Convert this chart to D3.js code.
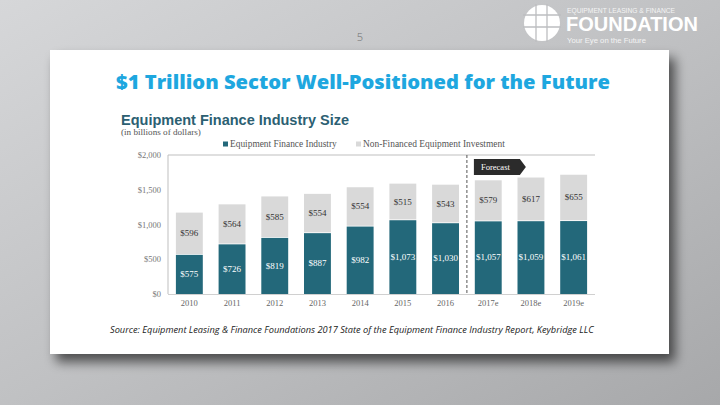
<!DOCTYPE html>
<html><head><meta charset="utf-8">
<script src="https://cdn.jsdelivr.net/npm/d3@7/dist/d3.min.js"></script>
<style>html,body{margin:0;padding:0;background:#c4c5c7;}svg{display:block;}</style>
</head><body>
<svg id="c" width="720" height="405"></svg>
<script>
const years = ["2010","2011","2012","2013","2014","2015","2016","2017e","2018e","2019e"];
const financed = [575, 726, 819, 887, 982, 1073, 1030, 1057, 1059, 1061];
const nonFinanced = [596, 564, 585, 554, 554, 515, 543, 579, 617, 655];
const yTicks = [0, 500, 1000, 1500, 2000];
const yTickLabels = ["$0", "$500", "$1,000", "$1,500", "$2,000"];
const seriesNames = ["Equipment Finance Industry", "Non-Financed Equipment Investment"];
const valueLabels = v => "$" + d3.format(",")(v);

const svg = d3.select("#c");
const defs = svg.append("defs");
const bg = defs.append("linearGradient").attr("id","bg").attr("x1","0").attr("y1","0").attr("x2","1").attr("y2","1");
bg.append("stop").attr("offset","0").attr("stop-color","#d6d7d9");
bg.append("stop").attr("offset","0.5").attr("stop-color","#c0c1c3");
bg.append("stop").attr("offset","1").attr("stop-color","#a7a8aa");
const sh = defs.append("filter").attr("id","sh").attr("x","-10%").attr("y","-10%").attr("width","130%").attr("height","140%");
sh.append("feGaussianBlur").attr("in","SourceAlpha").attr("stdDeviation","6");
sh.append("feOffset").attr("dx","6").attr("dy","8").attr("result","b");
sh.append("feComponentTransfer").append("feFuncA").attr("type","linear").attr("slope","0.6");
const m = sh.append("feMerge"); m.append("feMergeNode"); m.append("feMergeNode").attr("in","SourceGraphic");

svg.append("rect").attr("width",720).attr("height",405).attr("fill","url(#bg)");

function fit(sel, w){
  const n = sel.node(); const cur = n.getComputedTextLength();
  const fs = parseFloat(sel.attr("font-size"));
  if(cur>0) sel.attr("font-size", (fs*w/cur).toFixed(2));
  return sel;
}

// page number
svg.append("text").attr("x",360).attr("y",41).attr("text-anchor","middle")
  .attr("font-family","Open Sans, sans-serif").attr("font-weight",300).attr("font-size",11).attr("fill","#6d6e70").text("5");

// logo
const lg = svg.append("g");
lg.append("circle").attr("cx",542).attr("cy",23).attr("r",18).attr("fill","#ffffff");
[536,547].forEach(x=>lg.append("line").attr("x1",x).attr("x2",x).attr("y1",4).attr("y2",42).attr("stroke","#bdbec0").attr("stroke-width",1.3));
[15,27].forEach(y=>lg.append("line").attr("x1",523).attr("x2",561).attr("y1",y).attr("y2",y).attr("stroke","#bdbec0").attr("stroke-width",1.3));
fit(lg.append("text").attr("x",567).attr("y",13).attr("font-family","Liberation Sans, sans-serif").attr("font-size",6.5).attr("fill","#f4f4f4").text("EQUIPMENT LEASING & FINANCE"),108);
fit(lg.append("text").attr("x",566).attr("y",31).attr("font-family","Liberation Sans, sans-serif").attr("font-weight","bold").attr("font-size",19).attr("fill","#ffffff").text("FOUNDATION"),132);
fit(lg.append("text").attr("x",567).attr("y",43).attr("font-family","Liberation Sans, sans-serif").attr("font-size",8.5).attr("fill","#f4f4f4").text("Your Eye on the Future"),79);

// card
svg.append("rect").attr("x",50).attr("y",50).attr("width",619).attr("height",304).attr("fill","#ffffff").attr("filter","url(#sh)");

// main title
fit(svg.append("text").attr("x",116).attr("y",89).attr("font-family","Open Sans, sans-serif").attr("font-weight",800).attr("font-size",20).attr("fill","#1ea7df").text("$1 Trillion Sector Well-Positioned for the Future"),494);

// chart title
fit(svg.append("text").attr("x",121).attr("y",125).attr("font-family","Liberation Sans, Arial, sans-serif").attr("font-weight","bold").attr("font-size",14.5).attr("fill","#2c6072").text("Equipment Finance Industry Size"),228);
fit(svg.append("text").attr("x",121).attr("y",134.5).attr("font-family","Liberation Serif, serif").attr("font-size",8.5).attr("fill","#555").text("(in billions of dollars)"),80);

// scales
const x = d3.scaleBand().domain(years).range([168,595]).paddingInner(0.37).paddingOuter(0.185);
const y = d3.scaleLinear().domain([0,2000]).range([294,155]);
const serif = "Liberation Serif, serif";
const teal = "#23687a", grey = "#d9d9d9";

// legend
const legend = svg.append("g");
legend.append("rect").attr("x",223).attr("y",141.5).attr("width",5).attr("height",5).attr("fill",teal);
fit(legend.append("text").attr("x",230).attr("y",146.5).attr("font-family",serif).attr("font-size",8.5).attr("fill","#555").text(seriesNames[0]),107);
legend.append("rect").attr("x",356).attr("y",141.5).attr("width",5).attr("height",5).attr("fill",grey);
fit(legend.append("text").attr("x",363).attr("y",146.5).attr("font-family",serif).attr("font-size",8.5).attr("fill","#555").text(seriesNames[1]),142);

// axes frame
svg.append("line").attr("x1",168).attr("x2",595).attr("y1",y(2000)).attr("y2",y(2000)).attr("stroke","#bfbfbf");
svg.append("line").attr("x1",168).attr("x2",168).attr("y1",y(2000)).attr("y2",y(0)).attr("stroke","#bfbfbf");
svg.append("line").attr("x1",168).attr("x2",595).attr("y1",y(0)+0.5).attr("y2",y(0)+0.5).attr("stroke","#d0d0d0");

const yAxis = d3.axisLeft(y).tickValues(yTicks).tickSize(0).tickPadding(7).tickFormat((d,i)=>yTickLabels[i]);
const ya = svg.append("g").attr("transform","translate(168,0)").call(yAxis);
ya.select(".domain").remove();
ya.selectAll("text").attr("font-family",serif).attr("font-size",8.5).attr("fill","#777");

const xAxis = d3.axisBottom(x).tickSize(0).tickPadding(6);
const xa = svg.append("g").attr("transform",`translate(0,${y(0)})`).call(xAxis);
xa.select(".domain").remove();
xa.selectAll("text").attr("font-family",serif).attr("font-size",8.5).attr("fill","#666");

// bars
const data = years.map((yr,i)=>({yr, f:financed[i], n:nonFinanced[i]}));
const g = svg.append("g");
g.selectAll("rect.n").data(data).join("rect").attr("class","n")
  .attr("x",d=>x(d.yr)).attr("width",x.bandwidth())
  .attr("y",d=>y(d.f+d.n)).attr("height",d=>y(d.f)-y(d.f+d.n)).attr("fill",grey);
g.selectAll("rect.f").data(data).join("rect").attr("class","f")
  .attr("x",d=>x(d.yr)).attr("width",x.bandwidth())
  .attr("y",d=>y(d.f)+0.8).attr("height",d=>y(0)-y(d.f)-0.8).attr("fill",teal);
g.selectAll("text.n").data(data).join("text").attr("class","n")
  .attr("x",d=>x(d.yr)+x.bandwidth()/2).attr("y",d=>(y(d.f)+y(d.f+d.n))/2+3)
  .attr("text-anchor","middle").attr("font-family",serif).attr("font-size",9).attr("fill","#333")
  .text(d=>valueLabels(d.n));
g.selectAll("text.f").data(data).join("text").attr("class","f")
  .attr("x",d=>x(d.yr)+x.bandwidth()/2).attr("y",d=>(y(d.f)+y(0))/2+3)
  .attr("text-anchor","middle").attr("font-family",serif).attr("font-size",9).attr("fill","#ffffff")
  .text(d=>valueLabels(d.f));

// forecast divider
const xd = (x("2016")+x.bandwidth() + x("2017e"))/2;
svg.append("line").attr("x1",xd).attr("x2",xd).attr("y1",y(2000)).attr("y2",y(0))
  .attr("stroke","#555").attr("stroke-width",1).attr("stroke-dasharray","3,2");
const fx = xd+7, fy = 159;
svg.append("path").attr("d",`M${fx},${fy}H${fx+46}L${fx+52},${fy+8}L${fx+46},${fy+16}H${fx}Z`).attr("fill","#2b2b2b");
fit(svg.append("text").attr("x",fx+7).attr("y",fy+11).attr("font-family",serif).attr("font-size",8).attr("fill","#fff").text("Forecast"),29);

// source
fit(svg.append("text").attr("x",110).attr("y",333).attr("font-family","Open Sans, sans-serif").attr("font-style","italic").attr("font-size",8.5).attr("fill","#222").text("Source: Equipment Leasing & Finance Foundations 2017 State of the Equipment Finance Industry Report, Keybridge LLC"),484);
</script>
</body></html>
